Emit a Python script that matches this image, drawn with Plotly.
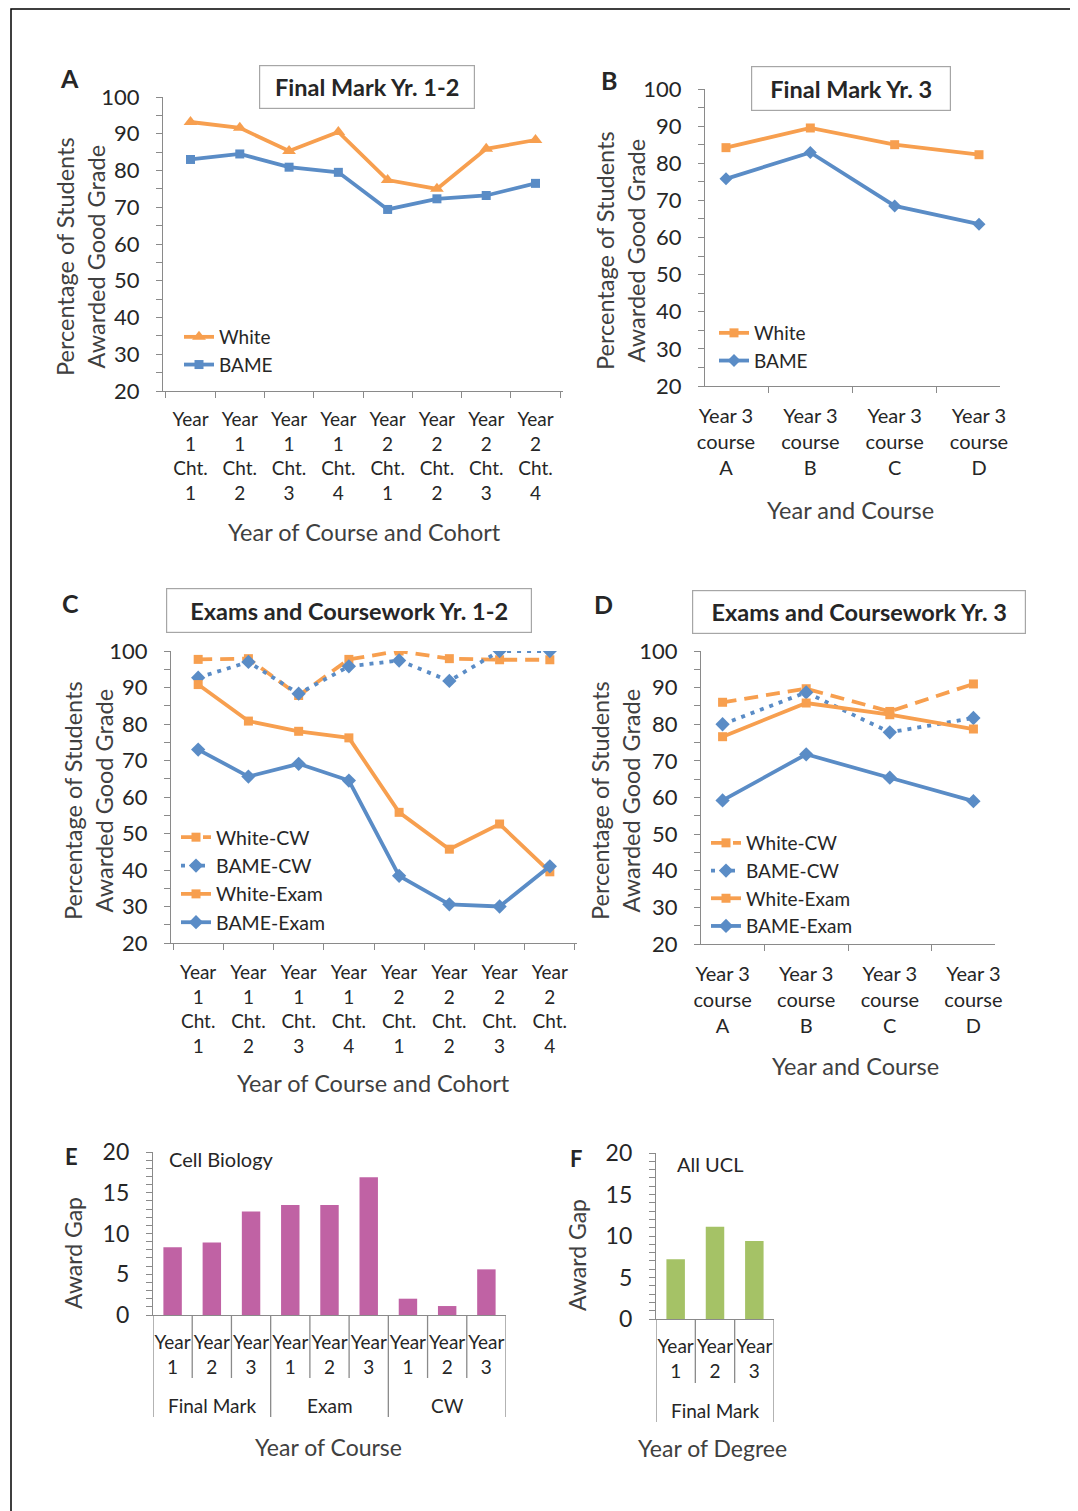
import plotly.graph_objects as go

W, H = 1078, 1511
OFF = 8  # page body margin of the browser

# ---------------- data ----------------
cohorts = ["Year<br>1<br>Cht.<br>1", "Year<br>1<br>Cht.<br>2", "Year<br>1<br>Cht.<br>3", "Year<br>1<br>Cht.<br>4",
           "Year<br>2<br>Cht.<br>1", "Year<br>2<br>Cht.<br>2", "Year<br>2<br>Cht.<br>3", "Year<br>2<br>Cht.<br>4"]
courses = ["Year 3<br>course<br>A", "Year 3<br>course<br>B", "Year 3<br>course<br>C", "Year 3<br>course<br>D"]

# Panel A - Final Mark Yr. 1-2
white_A = [93.2, 91.6, 85.3, 90.5, 77.4, 75.0, 85.9, 88.3]
bame_A = [83.0, 84.5, 80.9, 79.5, 69.4, 72.3, 73.2, 76.5]

# Panel B - Final Mark Yr. 3
white_B = [84.2, 89.5, 85.0, 82.3]
bame_B = [75.8, 82.9, 68.5, 63.6]

# Panel C - Exams and Coursework Yr. 1-2
white_cw_C = [97.7, 97.9, 87.8, 97.7, 100.0, 97.9, 97.6, 97.6]
bame_cw_C = [92.7, 97.0, 88.3, 95.8, 97.4, 91.8, 100.0, 100.0]
white_exam_C = [90.8, 80.8, 78.0, 76.2, 55.8, 45.7, 52.6, 39.5]
bame_exam_C = [73.0, 65.6, 69.1, 64.5, 38.4, 30.6, 30.0, 41.0]

# Panel D - Exams and Coursework Yr. 3
white_cw_D = [86.0, 89.7, 83.5, 91.0]
bame_cw_D = [80.0, 88.7, 77.8, 81.7]
white_exam_D = [76.6, 85.8, 82.6, 78.7]
bame_exam_D = [59.2, 71.8, 65.4, 59.0]

# Panel E - Cell Biology award gap
groups_E = ["Final Mark", "Final Mark", "Final Mark", "Exam", "Exam", "Exam", "CW", "CW", "CW"]
years_E = ["Year<br>1", "Year<br>2", "Year<br>3", "Year<br>1", "Year<br>2", "Year<br>3",
           "Year<br>1", "Year<br>2", "Year<br>3"]
gap_E = [8.3, 8.9, 12.7, 13.5, 13.5, 16.9, 2.0, 1.1, 5.6]

# Panel F - All UCL award gap
groups_F = ["Final Mark", "Final Mark", "Final Mark"]
years_F = ["Year<br>1", "Year<br>2", "Year<br>3"]
gap_F = [7.2, 11.1, 9.4]

# ---------------- style ----------------
ORANGE = "#F79F4F"
BLUE = "#5A8CC6"
MAGENTA = "#C062A4"
GREEN = "#A5C266"
AXIS = "#8A8A8A"
TXT = "#262626"
TTL = "#404040"
FONT = "Lato"
LW = 3.8


def px(x):
    return (x - OFF) / W


def py(y):
    return 1 - (y - OFF) / H


def dx(a, b):
    return [px(a), px(b)]


def dy(top, bottom):
    return [py(bottom), py(top)]


fig = go.Figure()


def line(x, y, name, color, symbol, size, dash, xa, ya, leg):
    fig.add_trace(go.Scatter(
        x=x, y=y, name=name, mode="lines+markers",
        line=dict(color=color, width=LW, dash=dash),
        marker=dict(color=color, symbol=symbol, size=size),
        xaxis=xa, yaxis=ya, legend=leg))


# A
line(cohorts, white_A, "White", ORANGE, "triangle-up", 12, "solid", "x", "y", "legend")
line(cohorts, bame_A, "BAME", BLUE, "square", 9, "solid", "x", "y", "legend")
# B
line(courses, white_B, "White", ORANGE, "square", 9, "solid", "x2", "y2", "legend2")
line(courses, bame_B, "BAME", BLUE, "diamond", 10, "solid", "x2", "y2", "legend2")
# C
DASH = "14px,8px"
DOT = "4px,6px"
line(cohorts, white_cw_C, "White-CW", ORANGE, "square", 9, DASH, "x3", "y3", "legend3")
line(cohorts, bame_cw_C, "BAME-CW", BLUE, "diamond", 11, DOT, "x3", "y3", "legend3")
line(cohorts, white_exam_C, "White-Exam", ORANGE, "square", 9, "solid", "x3", "y3", "legend3")
line(cohorts, bame_exam_C, "BAME-Exam", BLUE, "diamond", 11, "solid", "x3", "y3", "legend3")
# D
line(courses, white_cw_D, "White-CW", ORANGE, "square", 9, DASH, "x4", "y4", "legend4")
line(courses, bame_cw_D, "BAME-CW", BLUE, "diamond", 11, DOT, "x4", "y4", "legend4")
line(courses, white_exam_D, "White-Exam", ORANGE, "square", 9, "solid", "x4", "y4", "legend4")
line(courses, bame_exam_D, "BAME-Exam", BLUE, "diamond", 11, "solid", "x4", "y4", "legend4")

# E, F (bars at category index positions; labels supplied as tick text)
idx_E = list(range(len(gap_E)))
idx_F = list(range(len(gap_F)))
fig.add_trace(go.Bar(x=idx_E, y=gap_E, marker=dict(color=MAGENTA, line=dict(width=0)),
                     xaxis="x5", yaxis="y5", showlegend=False))
fig.add_trace(go.Bar(x=idx_F, y=gap_F, marker=dict(color=GREEN, line=dict(width=0)),
                     xaxis="x6", yaxis="y6", showlegend=False))


def yax(domain, anchor, rng, dtick, mdtick, size=22):
    return dict(domain=domain, anchor=anchor, range=rng, dtick=dtick, tick0=0, automargin=False,
                showline=True, linecolor=AXIS, linewidth=1.3, showgrid=False, zeroline=False,
                ticks="outside", ticklen=6, tickwidth=1.3, tickcolor=AXIS,
                minor=dict(dtick=mdtick, ticks="outside", ticklen=6, tickwidth=1.3, tickcolor=AXIS,
                           showgrid=False),
                tickfont=dict(size=size, color=TXT, family=FONT), ticklabelstandoff=12, fixedrange=True)


def xax(domain, anchor, size=19, standoff=11):
    return dict(domain=domain, anchor=anchor, type="category", automargin=False,
                showline=True, linecolor=AXIS, linewidth=1.3, showgrid=False, zeroline=False,
                ticks="outside", ticklen=6, tickwidth=1.3, tickcolor=AXIS, tickson="boundaries",
                tickfont=dict(size=size, color=TXT, family=FONT), tickangle=0,
                ticklabelstandoff=standoff, fixedrange=True)


def group_info(groups):
    bounds = [-0.5]
    centers = []
    names = []
    start = 0
    for i in range(1, len(groups) + 1):
        if i == len(groups) or groups[i] != groups[i - 1]:
            bounds.append(i - 0.5)
            centers.append((start + i - 1) / 2)
            names.append(groups[i - 1])
            start = i
    return bounds, centers, names


layout = dict(
    width=W, height=H, margin=dict(l=0, r=0, t=0, b=0, pad=0, autoexpand=False),
    paper_bgcolor="white", plot_bgcolor="rgba(0,0,0,0)",
    font=dict(family=FONT, color=TXT),
    bargap=0.53,
    xaxis=xax(dx(163, 563), "y"), yaxis=yax(dy(97, 391), "x", [20, 100], 10, 5),
    xaxis2=xax(dx(705, 1000), "y2", size=20, standoff=12), yaxis2=yax(dy(89, 386), "x2", [20, 100], 10, 5),
    xaxis3=xax(dx(171, 577), "y3", standoff=12), yaxis3=yax(dy(651, 943), "x3", [20, 100], 10, 5),
    xaxis4=xax(dx(701, 995), "y4", size=20, standoff=12), yaxis4=yax(dy(651, 944), "x4", [20, 100], 10, 5),
    yaxis5=yax(dy(1152, 1315), "x5", [0, 20], 5, 1, size=23),
    yaxis6=yax(dy(1153, 1319), "x6", [0, 20], 5, 1, size=23),
)

shapes = []
ann = []

# bar panels: inner tick labels on the axis, boundaries and group labels derived from the data
for xa, dom, anc, idx, years, groups, axis_y, inner_end, group_end, label_y in (
        ("x5", dx(153, 506), "y5", idx_E, years_E, groups_E, 1315, 1378, 1417, 1405.7),
        ("x6", dx(656, 774), "y6", idx_F, years_F, groups_F, 1319, 1383, 1422, 1410)):
    rng = [-0.5, len(idx) - 0.5]
    bounds, centers, names = group_info(groups)
    inner = [i - 0.5 for i in idx] + [len(idx) - 0.5]
    layout["xaxis" + xa[1:]] = dict(domain=dom, anchor=anc, range=rng, showgrid=False, zeroline=False,
                                    automargin=False, fixedrange=True, showline=True, linecolor=AXIS,
                                    linewidth=1.3, tickmode="array", tickvals=idx, ticktext=years, ticks="",
                                    ticklabelstandoff=10, tickangle=0,
                                    tickfont=dict(size=19, color=TXT, family=FONT))
    for b in inner:
        end = group_end if b in bounds else inner_end
        shapes.append(dict(type="line", xref=xa, yref="paper", x0=b, x1=b, y0=py(axis_y), y1=py(end),
                           line=dict(color=AXIS, width=1.3)))
    for c, name in zip(centers, names):
        ann.append(dict(xref=xa, yref="paper", x=c, y=py(label_y), text=name, showarrow=False,
                        xanchor="center", yanchor="middle", font=dict(size=19, color=TXT, family=FONT)))

for name, (lx, ly, fs) in (("legend", (179, 318, 19), ), ("legend2", (714, 314, 19)),
                           ("legend3", (176, 818, 19.5)), ("legend4", (706, 824, 19))):
    layout[name] = dict(x=px(lx), y=py(ly), xanchor="left", yanchor="top", bgcolor="rgba(0,0,0,0)",
                        font=dict(size=fs, color=TXT, family=FONT), tracegroupgap=0,
                        itemclick=False, itemdoubleclick=False)
fig.update_layout(**layout)


def text(x, y, s, size, bold=False, angle=0, xanchor="center", color=TXT):
    ann.append(dict(xref="paper", yref="paper", x=px(x), y=py(y), text=("<b>%s</b>" % s) if bold else s,
                    showarrow=False, xanchor=xanchor, yanchor="middle", textangle=angle,
                    font=dict(size=size, color=color, family=FONT)))


def box(x0, x1, y0, y1, s):
    ann.append(dict(xref="paper", yref="paper", x=px((x0 + x1) / 2), y=py((y0 + y1) / 2),
                    text="<b>%s</b>" % s, showarrow=False, xanchor="center", yanchor="middle",
                    width=x1 - x0 - 2, height=y1 - y0 - 2, borderpad=0, bordercolor="#A6A6A6",
                    borderwidth=1.2, bgcolor="white", font=dict(size=23.5, color=TXT, family=FONT)))


# panel letters
text(69, 78, "A", 25, bold=True)
text(609, 80, "B", 25, bold=True)
text(70, 603, "C", 25, bold=True)
text(603, 604, "D", 25, bold=True)
text(71, 1156, "E", 22, bold=True)
text(576, 1158, "F", 22, bold=True)

# title boxes
box(259, 475, 65, 109, "Final Mark Yr. 1-2")
box(751, 951, 66, 111, "Final Mark Yr. 3")
box(166, 532, 588, 633, "Exams and Coursework Yr. 1-2")
box(692, 1026, 590, 634, "Exams and Coursework Yr. 3")

# y-axis titles
ytitle = "Percentage of Students<br>Awarded Good Grade"
text(81, 257, ytitle, 23.5, angle=-90, color=TTL)
text(620, 251, ytitle, 23.5, angle=-90, color=TTL)
text(88, 801, ytitle, 23.5, angle=-90, color=TTL)
text(615, 801, ytitle, 23.5, angle=-90, color=TTL)
text(73, 1253, "Award Gap", 23, angle=-90, color=TTL)
text(577, 1255, "Award Gap", 23, angle=-90, color=TTL)

# x-axis titles
text(364, 532, "Year of Course and Cohort", 23.5, color=TTL)
text(850, 510, "Year and Course", 23.5, color=TTL)
text(373, 1083, "Year of Course and Cohort", 23.5, color=TTL)
text(856, 1066, "Year and Course", 23.5, color=TTL)
text(329, 1447, "Year of Course", 23, color=TTL)
text(712, 1448, "Year of Degree", 23, color=TTL)

# in-plot labels
text(167, 1159, "Cell Biology", 20, xanchor="left")
text(675, 1164, "All UCL", 20, xanchor="left")

# outer frame
shapes.append(dict(type="rect", xref="paper", yref="paper", x0=px(11), x1=px(1073), y0=-0.05, y1=py(9),
                   line=dict(color="black", width=1.5), fillcolor="rgba(0,0,0,0)", layer="below"))

fig.update_layout(annotations=ann, shapes=shapes)

fig.write_html("out.html")
